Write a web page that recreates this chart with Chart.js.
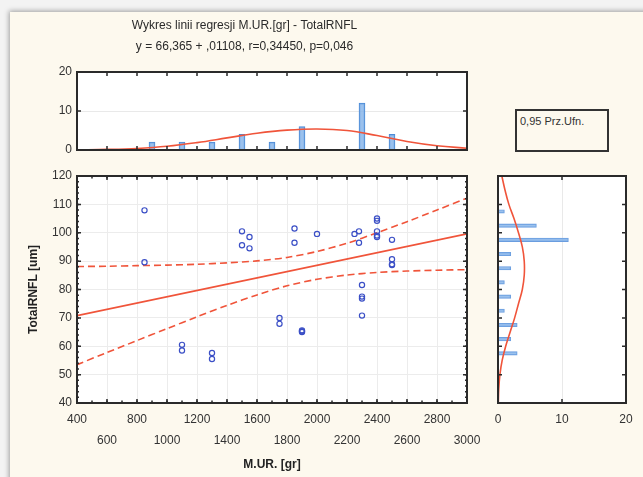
<!DOCTYPE html>
<html>
<head>
<meta charset="utf-8">
<script src="https://cdn.jsdelivr.net/npm/chart.js@4.4.1/dist/chart.umd.min.js"></script>
<style>
  body { margin: 0; width: 643px; height: 477px; overflow: hidden; background: #f3f3f3; position: relative; font-family: 'Liberation Sans', Arial, sans-serif; }
  #frame { position: absolute; left: 10px; top: 12px; width: 700px; height: 520px; background: #fdf9ee; box-shadow: -1px -1px 5px rgba(0,0,0,0.35); }
  canvas { position: absolute; }
  #legendBox { position: absolute; left: 515px; top: 109px; width: 94px; height: 43px; box-sizing: border-box; border: 2px solid #333; font-size: 11px; color: #333; padding: 4px 0 0 3px; background: #fdf9ee; }
</style>
</head>
<body>
<div id="frame"></div>
<canvas id="topHist" width="566" height="160" style="left:22px;top:0px"></canvas>
<canvas id="main" width="470" height="310" style="left:22px;top:166px"></canvas>
<canvas id="sideHist" width="150" height="310" style="left:485px;top:166px"></canvas>
<div id="legendBox">0,95 Prz.Ufn.</div>
<script>
// scatter points (M.UR. [gr], TotalRNFL [um])
const ptsX = [850, 850, 1100, 1100, 1300, 1300, 1500, 1500, 1550, 1550, 1750, 1750, 1850, 1850, 1900, 1900, 1900,
              2000, 2250, 2280, 2280, 2300, 2300, 2300, 2300, 2400, 2400, 2400, 2400, 2400, 2500, 2500, 2500, 2500];
const ptsY = [107.9, 89.6, 60.5, 58.5, 57.6, 55.5, 100.5, 95.6, 98.5, 94.5, 70.0, 67.9, 101.5, 96.5, 65.6, 65.0, 65.3,
              99.6, 99.6, 100.5, 96.5, 81.6, 77.5, 76.8, 70.8, 105.0, 104.2, 100.5, 98.5, 99.0, 97.5, 90.7, 88.6, 88.9];

// regression line end points
const regX = [400, 3000];
const regY = [70.8, 99.6];

// 0.95 confidence band
const bandX = [400, 600, 800, 1000, 1200, 1400, 1600, 1800, 2000, 2200, 2400, 2600, 2800, 3000];
const bandUpper = [88.1, 88.2, 88.4, 88.6, 88.9, 89.4, 90.1, 91.3, 93.4, 96.3, 100.0, 103.9, 108.0, 112.2];
const bandLower = [53.5, 57.8, 62.0, 66.2, 70.4, 74.4, 78.1, 81.3, 83.6, 85.1, 86.0, 86.5, 86.8, 87.0];

// histogram of M.UR. (top)
const xBins = [900, 1100, 1300, 1500, 1700, 1900, 2300, 2500];
const xCounts = [2, 2, 2, 4, 2, 6, 12, 4];
const xNormAt = [400, 600, 800, 1000, 1200, 1400, 1600, 1800, 2000, 2200, 2400, 2600, 2800, 3000];
const xNormVal = [0.05, 0.15, 0.4, 0.95, 1.9, 3.1, 4.3, 5.1, 5.4, 5.0, 3.7, 2.2, 1.1, 0.45];

// histogram of TotalRNFL (right)
const yBins = [107.5, 102.5, 97.5, 92.5, 87.5, 82.5, 77.5, 72.5, 67.5, 62.5, 57.5];
const yCounts = [1, 6, 11, 2, 2, 1, 2, 1, 3, 2, 3];
const yNormAt = [120, 115, 110, 105, 100, 95, 90, 85, 80, 75, 70, 65, 60, 55, 50, 45, 40];
const yNormVal = [0.6, 1.1, 1.7, 2.5, 3.2, 3.8, 4.1, 4.1, 3.8, 3.2, 2.6, 1.9, 1.2, 0.65, 0.3, 0.12, 0.05];

const titleLines = ['Wykres linii regresji M.UR.[gr] - TotalRNFL', 'y = 66,365 + ,01108, r=0,34450, p=0,046'];

Chart.defaults.font.family = "'Liberation Sans', Arial, sans-serif";
Chart.defaults.color = '#333';
Chart.defaults.animation = false;

const RED = '#f0543a';
const pairs = (xs, ys) => xs.map((x, i) => ({ x: x, y: ys[i] }));

// white plot area, box and inward tick marks like Statistica
const frame = {
  id: 'frame',
  beforeDraw(chart) {
    const { ctx, chartArea: a } = chart;
    ctx.save();
    ctx.fillStyle = '#fff';
    ctx.fillRect(a.left, a.top, a.width, a.height);
    ctx.restore();
  },
  afterDraw(chart, args, o) {
    const { ctx, chartArea: a, scales } = chart;
    ctx.save();
    ctx.strokeStyle = '#2a2a2a';
    ctx.lineWidth = 1.5;
    const marks = (sc, step, len, horiz) => {
      if (!step) return;
      for (let v = sc.min; v <= sc.max + 1e-9; v += step) {
        const p = sc.getPixelForValue(v);
        ctx.beginPath();
        if (horiz) {
          ctx.moveTo(p, a.top); ctx.lineTo(p, a.top + len);
          ctx.moveTo(p, a.bottom); ctx.lineTo(p, a.bottom - len);
        } else {
          ctx.moveTo(a.left, p); ctx.lineTo(a.left + len, p);
          ctx.moveTo(a.right, p); ctx.lineTo(a.right - len, p);
        }
        ctx.stroke();
      }
    };
    marks(scales.x, o.xMinor, 2.5, true);
    marks(scales.x, o.xStep, 4, true);
    marks(scales.y, o.yMinor, 2, false);
    marks(scales.y, o.yStep, 4, false);
    ctx.lineWidth = 2;
    ctx.strokeRect(a.left, a.top, a.width, a.height);
    ctx.restore();
  }
};

const fixY = w => s => { s.width = w; s.paddingTop = 0; s.paddingBottom = 0; };
const fixX = h => s => { s.height = h; s.paddingLeft = 0; s.paddingRight = 0; };
const only10 = c => c.tick.value === 10 ? '#e9e9e9' : 'rgba(0,0,0,0)';

// top histogram
new Chart(document.getElementById('topHist'), {
  type: 'bar',
  data: {
    datasets: [
      { type: 'line', data: pairs(xNormAt, xNormVal), borderColor: RED, borderWidth: 1.6, pointRadius: 0, tension: 0.4 },
      { type: 'bar', data: pairs(xBins, xCounts), barThickness: 6, backgroundColor: 'rgba(130,178,232,0.8)', borderColor: '#4d8bd6', borderWidth: 1 }
    ]
  },
  options: {
    responsive: false,
    layout: { padding: { left: 0, top: 0, right: 121, bottom: 10 } },
    plugins: {
      legend: { display: false },
      tooltip: { enabled: false },
      title: { display: true, text: titleLines, color: '#2a2a2a', font: { size: 12, weight: 'normal', lineHeight: '21px' }, padding: { top: 15, bottom: 15 } },
      frame: { xStep: 200, yStep: 10 }
    },
    scales: {
      x: { type: 'linear', min: 400, max: 3000, offset: false, display: false },
      y: {
        min: 0, max: 20,
        ticks: { stepSize: 10, padding: 5, font: { size: 12 } },
        grid: { color: only10, drawTicks: false },
        border: { display: false },
        afterFit: fixY(55)
      }
    }
  },
  plugins: [frame]
});

// main scatter with regression line and confidence band
new Chart(document.getElementById('main'), {
  type: 'scatter',
  data: {
    datasets: [
      { data: pairs(ptsX, ptsY), pointStyle: 'circle', pointRadius: 2.6, borderWidth: 1.2, borderColor: '#3b4fc6', backgroundColor: 'rgba(0,0,0,0)' },
      { type: 'line', data: pairs(regX, regY), borderColor: RED, borderWidth: 1.6, pointRadius: 0 },
      { type: 'line', data: pairs(bandX, bandUpper), borderColor: RED, borderWidth: 1.6, borderDash: [7, 4], pointRadius: 0, tension: 0.3 },
      { type: 'line', data: pairs(bandX, bandLower), borderColor: RED, borderWidth: 1.6, borderDash: [7, 4], pointRadius: 0, tension: 0.3 }
    ]
  },
  options: {
    responsive: false,
    layout: { padding: { left: 0, top: 10, right: 25, bottom: 0 } },
    plugins: { legend: { display: false }, tooltip: { enabled: false }, frame: { xStep: 200, xMinor: 100, yStep: 10, yMinor: 2 } },
    scales: {
      x: {
        type: 'linear', min: 400, max: 3000,
        ticks: {
          stepSize: 200, padding: 6, autoSkip: false, maxRotation: 0,
          font: { size: 12, lineHeight: '21px' },
          callback: v => ((v - 400) / 200) % 2 ? ['', String(v)] : String(v)
        },
        grid: { color: '#ececec', drawTicks: false },
        border: { display: false },
        title: { display: true, text: 'M.UR. [gr]', color: '#222', font: { size: 12, weight: 'bold' }, padding: { top: 0, bottom: 4 } },
        afterFit: fixX(73)
      },
      y: {
        min: 40, max: 120,
        ticks: { stepSize: 10, padding: 5, font: { size: 12 } },
        grid: { color: '#ececec', drawTicks: false },
        border: { display: false },
        title: { display: true, text: 'TotalRNFL [um]', color: '#222', font: { size: 12, weight: 'bold' }, padding: { top: 4, bottom: 0 } },
        afterFit: fixY(55)
      }
    }
  },
  plugins: [frame]
});

// right histogram
new Chart(document.getElementById('sideHist'), {
  type: 'bar',
  data: {
    datasets: [
      { type: 'line', data: pairs(yNormVal, yNormAt), borderColor: RED, borderWidth: 1.6, pointRadius: 0, tension: 0.4 },
      { type: 'bar', data: pairs(yCounts, yBins), barThickness: 3.5, backgroundColor: 'rgba(130,178,232,0.8)', borderColor: '#6a9ddf', borderWidth: 0.8 }
    ]
  },
  options: {
    responsive: false,
    indexAxis: 'y',
    layout: { padding: { left: 13, top: 10, right: 9, bottom: 0 } },
    plugins: { legend: { display: false }, tooltip: { enabled: false }, frame: { xStep: 10, yStep: 10 } },
    scales: {
      x: {
        type: 'linear', min: 0, max: 20,
        ticks: { stepSize: 10, padding: 6, font: { size: 12, lineHeight: '21px' } },
        grid: { color: only10, drawTicks: false },
        border: { display: false },
        afterFit: fixX(73)
      },
      y: { type: 'linear', min: 40, max: 120, offset: false, display: false }
    }
  },
  plugins: [frame]
});
</script>
</body>
</html>
